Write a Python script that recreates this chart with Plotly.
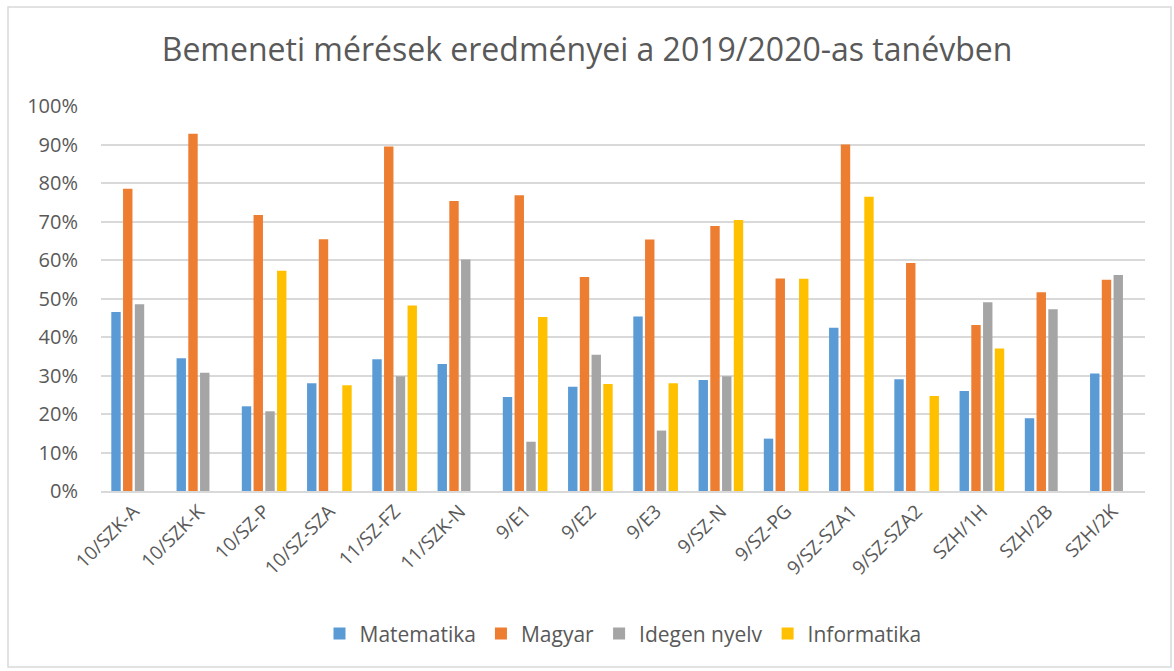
import plotly.graph_objects as go

categories = ["10/SZK-A", "10/SZK-K", "10/SZ-P", "10/SZ-SZA", "11/SZ-FZ", "11/SZK-N",
              "9/E1", "9/E2", "9/E3", "9/SZ-N", "9/SZ-PG", "9/SZ-SZA1", "9/SZ-SZA2",
              "SZH/1H", "SZH/2B", "SZH/2K"]
matematika = [0.465, 0.345, 0.220, 0.280, 0.342, 0.330, 0.244, 0.271, 0.453, 0.288, 0.136,
              0.424, 0.290, 0.260, 0.189, 0.305]
magyar = [0.785, 0.928, 0.717, 0.654, 0.895, 0.753, 0.768, 0.556, 0.653, 0.688, 0.552,
          0.900, 0.592, 0.431, 0.516, 0.549]
idegen = [0.485, 0.307, 0.207, None, 0.298, 0.601, 0.128, 0.354, 0.157, 0.298, None,
          None, None, 0.490, 0.472, 0.561]
informatika = [None, None, 0.572, 0.275, 0.482, None, 0.452, 0.278, 0.280, 0.704, 0.551,
               0.764, 0.247, 0.370, None, None]
series = [("Matematika", matematika, "#5B9BD5"), ("Magyar", magyar, "#ED7D31"),
          ("Idegen nyelv", idegen, "#A5A5A5"), ("Informatika", informatika, "#FFC000")]
yticks = [i / 10 for i in range(11)]

FONT = "Open Sans"
fig = go.Figure()
for name, vals, col in series:
    fig.add_trace(go.Bar(x=categories, y=vals, name=name, marker_color=col,
                         marker_line_width=0))

fig.update_layout(
    width=1174, height=671,
    margin=dict(l=101, r=29, t=106, b=180),
    paper_bgcolor="white", plot_bgcolor="white",
    barmode="group", bargap=0.28, bargroupgap=0.2,
    title=dict(text="Bemeneti mérések eredményei a 2019/2020-as tanévben",
               x=0.5, xanchor="center", y=1 - 50 / 671, yanchor="middle",
               font=dict(family=FONT, size=32, color="#595959")),
    font=dict(family=FONT, color="#595959", size=19),
    legend=dict(orientation="h", x=0.5, xanchor="center", y=-0.371, yanchor="middle",
                font=dict(family=FONT, size=21, color="#595959"),
                itemwidth=30, tracegroupgap=0),
    showlegend=True,
)
fig.update_yaxes(range=[0, 1], tickvals=yticks, tickformat=".0%",
                 showgrid=True, gridcolor="#D9D9D9", gridwidth=1.5,
                 zeroline=False, showline=False, ticks="",
                 ticklabelstandoff=22,
                 tickfont=dict(family=FONT, size=20, color="#595959"))
fig.update_xaxes(tickangle=-45, showline=True, linecolor="#D9D9D9", linewidth=1.5,
                 ticks="", showgrid=False,
                 tickfont=dict(family=FONT, size=19, color="#595959"))
fig.add_shape(type="rect", xref="paper", yref="paper",
              x0=(8 - 101) / 1044, x1=(1171 - 101) / 1044,
              y0=(491 - 667) / 385, y1=(491 - 7) / 385,
              line=dict(color="#D9D9D9", width=1.5), fillcolor="rgba(0,0,0,0)",
              layer="below")
fig.write_html("out.html", config={"displayModeBar": False},
               post_script="document.body.style.margin='0';document.body.style.overflow='hidden';")
